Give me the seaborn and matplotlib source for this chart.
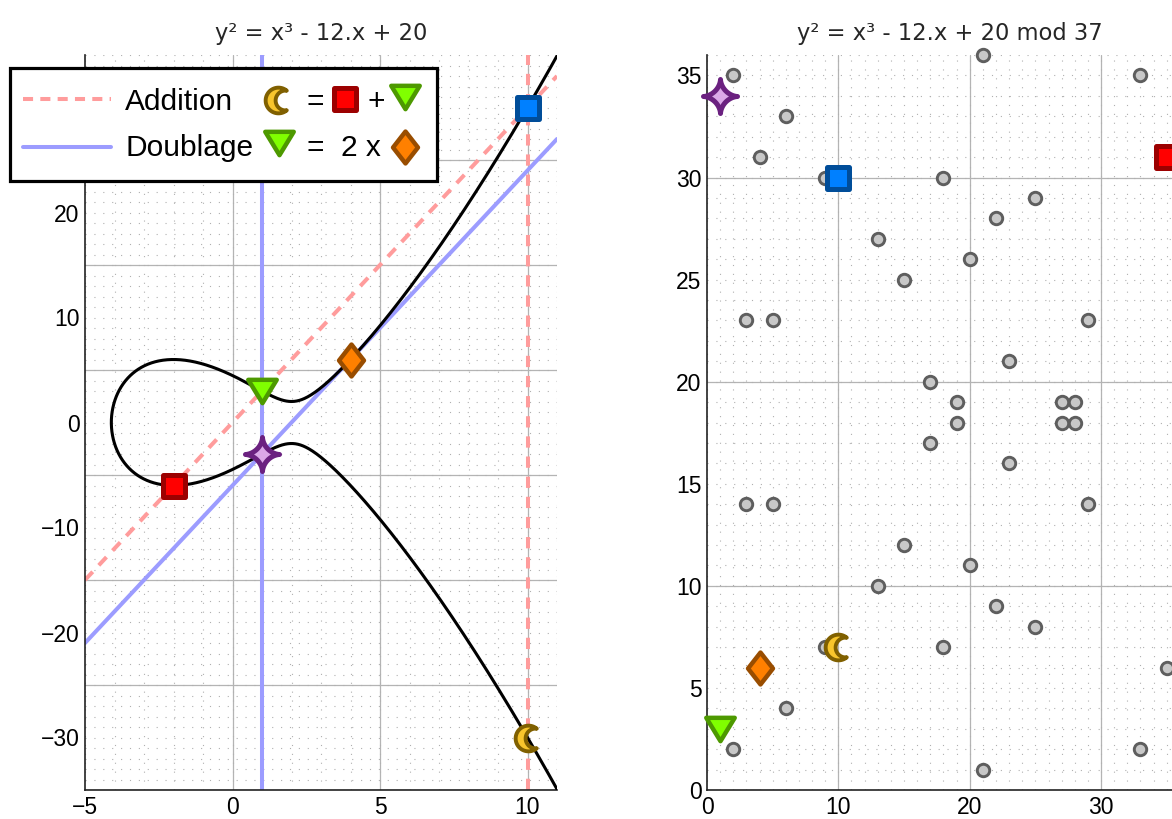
"""elliptic curve point addition / doubling, real curve and mod 37"""

import numpy as np
import seaborn as sns
import matplotlib.pyplot as plt
from matplotlib.markers import MarkerStyle
from matplotlib.patches import Rectangle
from matplotlib.path import Path


# y^2 = x^3 + A.x + B
A_COEF = -12
B_COEF = 20

# special points on the real curve
RED_PT = (-2, -6)
GREEN_PT = (1, 3)
STAR_PT = (1, -3)
ORANGE_PT = (4, 6)
BLUE_PT = (10, 30)
MOON_PT = (10, -30)

# chord (addition) and tangent (doubling) lines
ADD_X = [-5, 11]
ADD_Y = [-15, 33]
DBL_X = [-5, 11]
DBL_Y = [-21, 27]
ADD_VERT_X = 10
DBL_VERT_X = 1

# the same points mod 37
RED_MOD = (35, 31)
GREEN_MOD = (1, 3)
STAR_MOD = (1, 34)
ORANGE_MOD = (4, 6)
BLUE_MOD = (10, 30)
MOON_MOD = (10, 7)

# the other points of the curve mod 37
GRAY_X = [2, 2, 3, 3, 4, 5, 5, 6, 6, 9, 9, 13, 13, 15, 15, 17, 17, 18, 18, 19,
          19, 20, 20, 21, 21, 22, 22, 23, 23, 25, 25, 27, 27, 28, 28, 29, 29, 33, 33, 35]
GRAY_Y = [2, 35, 14, 23, 31, 14, 23, 4, 33, 7, 30, 10, 27, 12, 25, 17, 20, 7, 30, 18,
          19, 11, 26, 1, 36, 9, 28, 16, 21, 8, 29, 18, 19, 18, 19, 14, 23, 2, 35, 6]

LEFT_TITLE = "y² = x³ - 12.x + 20"
RIGHT_TITLE = "y² = x³ - 12.x + 20 mod 37"

PINK = "#ff9c9c"
LAVENDER = "#9c9cff"


def closed_marker(verts):
    verts = list(verts) + [verts[0]]
    return MarkerStyle(Path(np.array(verts, float), closed=True), joinstyle="round")


def moon_marker():
    a = np.radians(np.linspace(50, 310, 60))
    outer = np.column_stack([np.cos(a), np.sin(a)])
    b = np.radians(np.linspace(277, 83, 60))
    inner = np.column_stack([0.55 + 0.772 * np.cos(b), 0.772 * np.sin(b)])
    return closed_marker(np.vstack([outer, inner]).tolist())


def star_marker():
    t = np.linspace(0, 2 * np.pi, 160, endpoint=False)
    c, s = np.cos(t), np.sin(t)
    x = np.sign(c) * np.abs(c) ** 3.3
    y = np.sign(s) * np.abs(s) ** 3.3
    return closed_marker(np.column_stack([x, y]).tolist())


SQUARE = MarkerStyle("s", joinstyle="round")
TRIANGLE = closed_marker([(-1, 0.82), (1, 0.82), (0, -0.82)])
DIAMOND = closed_marker([(0, 1), (0.78, 0), (0, -1), (-0.78, 0)])
STAR = star_marker()
MOON = moon_marker()

STYLES = {
    "red": dict(marker=SQUARE, ms=15.5, mew=3.6, mfc="#ff0000", mec="#9c0000"),
    "blue": dict(marker=SQUARE, ms=15.5, mew=3.6, mfc="#0080ff", mec="#004d99"),
    "green": dict(marker=TRIANGLE, ms=20.5, mew=3.2, mfc="#80ff00", mec="#4d9900"),
    "orange": dict(marker=DIAMOND, ms=23, mew=3.2, mfc="#ff8000", mec="#994d00"),
    "star": dict(marker=STAR, ms=24.5, mew=3.6, mfc="#dba8e8", mec="#6b2180"),
    "moon": dict(marker=MOON, ms=18.5, mew=2.8, mfc="#f8c52c", mec="#806000"),
}


def put(ax, pt, key, **kw):
    ax.plot([pt[0]], [pt[1]], linestyle="none", zorder=6, clip_on=False,
            **STYLES[key], **kw)


def style_axes(ax, xlim, ylim, xticks, yticks, xgrid, ygrid):
    ax.set_xlim(xlim)
    ax.set_ylim(ylim)
    ax.set_xticks(xticks)
    ax.set_yticks(yticks)
    ax.set_xticks(np.arange(xlim[0], xlim[1] + 1), minor=True)
    ax.set_yticks(np.arange(ylim[0], ylim[1] + 1), minor=True)
    ax.xaxis.remove_overlapping_locs = False
    ax.yaxis.remove_overlapping_locs = False
    ax.set_axisbelow(True)
    ax.grid(which="minor", linestyle=(0, (1, 7)), color="#b0b0b0", linewidth=0.8)
    ax.grid(which="major", visible=False)
    for v in xgrid:
        ax.axvline(v, color="#b4b4b4", linewidth=0.9, zorder=0.5)
    for h in ygrid:
        ax.axhline(h, color="#b4b4b4", linewidth=0.9, zorder=0.5)
    ax.tick_params(which="major", direction="in", length=5, width=1,
                   labelsize=16.5, pad=4, colors="black")
    ax.tick_params(which="minor", length=0)
    for side in ("top", "right"):
        ax.spines[side].set_visible(False)
    for side in ("left", "bottom"):
        ax.spines[side].set_linewidth(1.2)
        ax.spines[side].set_color("#222222")


sns.set_style("white")
plt.rcParams["font.family"] = ["Liberation Sans", "DejaVu Sans"]

fig = plt.figure(figsize=(11.72, 8.19), dpi=100)
ax1 = fig.add_axes([85 / 1172, 29 / 819, 472 / 1172, 735 / 819])
ax2 = fig.add_axes([707 / 1172, 29 / 819, 486 / 1172, 735 / 819])

# ---- real curve ----
style_axes(ax1, (-5, 11), (-35, 35), [-5, 0, 5, 10], [-30, -20, -10, 0, 10, 20],
           [0, 5, 10], [-35, -25, -15, -5, 5, 15, 25])

x_root = min(r.real for r in np.roots([1, 0, A_COEF, B_COEF]) if abs(r.imag) < 1e-9)
s = np.linspace(0, np.sqrt(11.2 - x_root), 900)
xs = x_root + s ** 2
ys = np.sqrt(np.clip(xs ** 3 + A_COEF * xs + B_COEF, 0, None))
curve_x = np.concatenate([xs[::-1], xs])
curve_y = np.concatenate([ys[::-1], -ys])

ax1.plot(ADD_X, ADD_Y, color=PINK, lw=2.9, dashes=(2.8, 2.2), zorder=2)
ax1.axvline(ADD_VERT_X, color=PINK, lw=2.9, dashes=(2.8, 2.2), zorder=2)
ax1.plot(DBL_X, DBL_Y, color=LAVENDER, lw=2.9, zorder=2)
ax1.axvline(DBL_VERT_X, color=LAVENDER, lw=2.9, zorder=2)
ax1.plot(curve_x, curve_y, color="black", lw=2.2, zorder=3)

put(ax1, RED_PT, "red")
put(ax1, GREEN_PT, "green")
put(ax1, STAR_PT, "star")
put(ax1, ORANGE_PT, "orange")
put(ax1, BLUE_PT, "blue")
put(ax1, MOON_PT, "moon")
ax1.set_title(LEFT_TITLE, fontfamily="DejaVu Sans", fontsize=16.3, pad=11)

# ---- curve mod 37 ----
style_axes(ax2, (0, 37), (0, 36), [0, 10, 20, 30], [0, 5, 10, 15, 20, 25, 30, 35],
           [10, 20, 30], [10, 20, 30])
sns.scatterplot(x=GRAY_X, y=GRAY_Y, ax=ax2, s=80, color="#c8c8c8",
                edgecolor="#5e5e5e", linewidth=2.1, zorder=4, clip_on=False)
put(ax2, RED_MOD, "red")
put(ax2, GREEN_MOD, "green")
put(ax2, STAR_MOD, "star")
put(ax2, ORANGE_MOD, "orange")
put(ax2, BLUE_MOD, "blue")
put(ax2, MOON_MOD, "moon")
ax2.set_title(RIGHT_TITLE, fontfamily="DejaVu Sans", fontsize=16.3, pad=11)

# ---- legend box, drawn in figure pixels ----
lg = fig.add_axes([0, 0, 1, 1], zorder=10)
lg.set_xlim(0, 1172)
lg.set_ylim(819, 0)
lg.axis("off")
lg.add_patch(Rectangle((10, 68), 427, 113, facecolor="white",
                       edgecolor="black", linewidth=2.3))
lg.plot([23, 111], [99, 99], color=PINK, lw=2.9, dashes=(2.5, 1.8))
lg.plot([23, 111], [147, 147], color=LAVENDER, lw=2.9)
txt = dict(fontsize=21.5, va="baseline", color="black")
lg.text(125, 110, "Addition", ha="left", **txt)
lg.text(125, 156, "Doublage", ha="left", **txt)
lg.text(315, 110, "=", ha="center", **txt)
lg.text(376, 110, "+", ha="center", **txt)
lg.text(315, 156, "=", ha="center", **txt)
lg.text(361, 156, "2 x", ha="center", **txt)
put(lg, (278, 100), "moon")
put(lg, (345, 99), "red")
put(lg, (405, 97), "green")
put(lg, (279, 143), "green")
put(lg, (405, 147), "orange")

fig.savefig("out.png", dpi=100)
